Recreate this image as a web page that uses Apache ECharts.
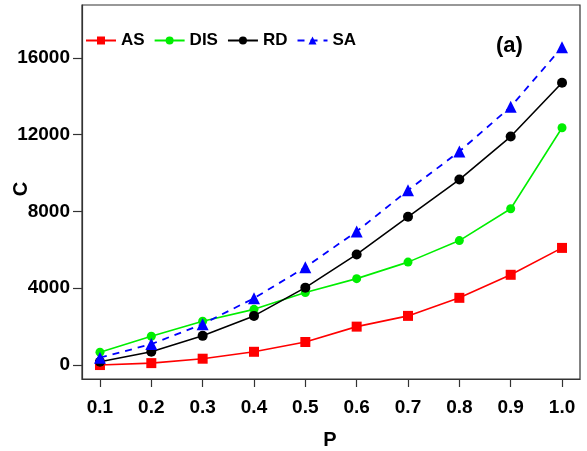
<!DOCTYPE html>
<html>
<head>
<meta charset="utf-8">
<script src="https://cdn.jsdelivr.net/npm/echarts@6/dist/echarts.min.js"></script>
<style>html,body{margin:0;padding:0;background:#fff;}#c{width:587px;height:451px;}</style>
</head>
<body>
<div id="c"></div>
<script>
const pValues = [0.1, 0.2, 0.3, 0.4, 0.5, 0.6, 0.7, 0.8, 0.9, 1.0];
const asValues = [0, 100, 330, 690, 1200, 2000, 2560, 3500, 4700, 6100];
const disValues = [670, 1500, 2280, 2900, 3780, 4500, 5360, 6480, 8140, 12360];
const rdValues = [170, 690, 1520, 2560, 4030, 5760, 7720, 9660, 11900, 14700];
const saValues = [380, 1090, 2130, 3480, 5090, 6960, 9100, 11120, 13450, 16550];
const yTicks = [0, 4000, 8000, 12000, 16000];
const xTicks = [0.1, 0.2, 0.3, 0.4, 0.5, 0.6, 0.7, 0.8, 0.9, 1.0];

const font = 'Liberation Sans, Arial, sans-serif';
const pairs = v => pValues.map((p, i) => [p, v[i]]);

const chart = echarts.init(document.getElementById('c'), null, {renderer: 'canvas'});
chart.setOption({
  animation: false,
  backgroundColor: '#fff',
  grid: {left: 82, right: 7, top: 5, bottom: 72, show: true, borderColor: '#333', borderWidth: 1.2, backgroundColor: 'transparent'},
  legend: {
    left: 80, top: 27, itemWidth: 30, itemHeight: 10, itemGap: 9,
    textStyle: {fontFamily: font, fontWeight: 'bold', fontSize: 17, color: '#000'},
    data: ['AS', 'DIS', 'RD', 'SA']
  },
  xAxis: {
    type: 'value', min: 0.065, max: 1.035,
    splitLine: {show: false},
    axisLine: {show: true, onZero: false, lineStyle: {color: '#333', width: 1.2}},
    axisTick: {show: true, length: 8, customValues: xTicks, lineStyle: {color: '#333', width: 1.2}},
    axisLabel: {customValues: xTicks, margin: 19, fontFamily: font, fontWeight: 'bold', fontSize: 19, color: '#000',
      formatter: v => Number(v).toFixed(1)}
  },
  yAxis: {
    type: 'value', min: -727, max: 18750,
    splitLine: {show: false},
    axisLine: {show: true, onZero: false, lineStyle: {color: '#333', width: 1.2}},
    axisTick: {show: true, length: 9, customValues: yTicks, lineStyle: {color: '#333', width: 1.2}},
    axisLabel: {customValues: yTicks, margin: 12, fontFamily: font, fontWeight: 'bold', fontSize: 19, color: '#000',
      formatter: v => String(Math.round(v))}
  },
  graphic: [
    {type: 'text', left: 496, top: 35, style: {text: '(a)', font: 'bold 22px ' + font, fill: '#000'}},
    {type: 'text', x: 330, y: 440, style: {text: 'P', font: 'bold 20px ' + font, fill: '#000', align: 'center', verticalAlign: 'middle'}},
    {type: 'text', x: 21, y: 189, rotation: Math.PI / 2, style: {text: 'C', font: 'bold 20px ' + font, fill: '#000', align: 'center', verticalAlign: 'middle'}}
  ],
  series: [
    {name: 'AS', type: 'line', data: pairs(asValues), symbol: 'rect', symbolSize: 10,
      itemStyle: {color: '#ff0000'}, lineStyle: {color: '#ff0000', width: 1.6}},
    {name: 'DIS', type: 'line', data: pairs(disValues), symbol: 'circle', symbolSize: 9,
      itemStyle: {color: '#00ee00'}, lineStyle: {color: '#00ee00', width: 1.6}},
    {name: 'RD', type: 'line', data: pairs(rdValues), symbol: 'circle', symbolSize: 10,
      itemStyle: {color: '#000'}, lineStyle: {color: '#000', width: 1.6}},
    {name: 'SA', type: 'line', data: pairs(saValues), symbol: 'triangle', symbolSize: 12,
      itemStyle: {color: '#0000ff'}, lineStyle: {color: '#0000ff', width: 1.8, type: [7, 6]}}
  ]
});
</script>
</body>
</html>
